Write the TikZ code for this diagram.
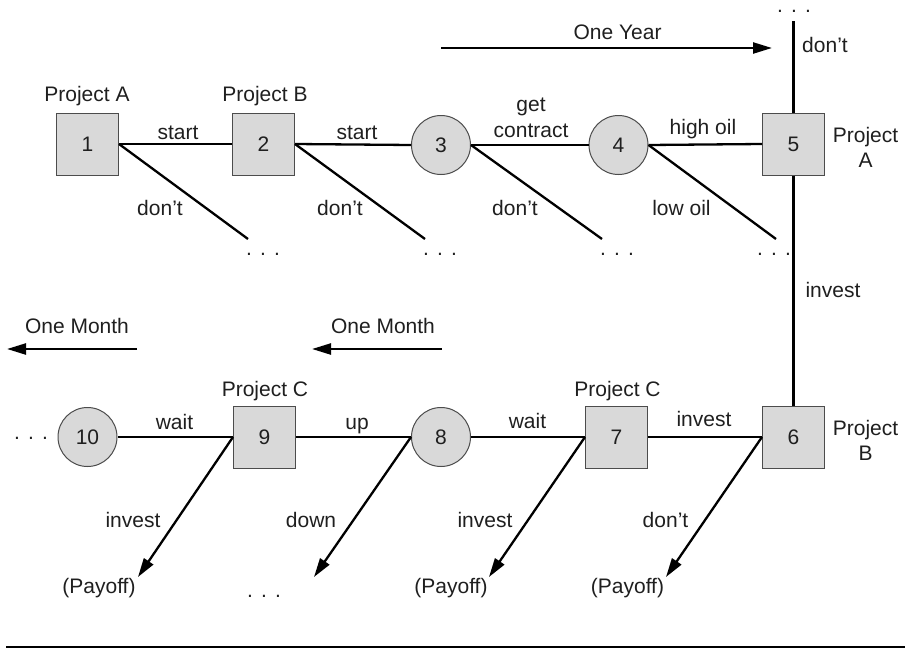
\documentclass[tikz,border=0pt]{standalone}
\usepackage{fontspec}
\setmainfont{Liberation Sans}
\usetikzlibrary{arrows.meta}
\newcommand\tdots{.\hspace{8.2pt}.\hspace{8.2pt}.}
\begin{document}
\begin{tikzpicture}[x=1pt,y=-1pt,
  every node/.style={font=\fontsize{21}{25}\selectfont, text=black!88, inner sep=0pt},
  decision/.style={draw=black!70, line width=1pt, fill=black!15, rectangle, minimum size=62pt},
  chance/.style={draw=black!70, line width=1pt, fill=black!15, circle, minimum size=59pt},
  lbl/.style={anchor=base},
  branch/.style={line width=2.3pt, draw=black},
  arr/.style={line width=2.3pt, draw=black, -{Triangle[length=19pt,width=11pt]}},
]
\useasboundingbox (0,0) rectangle (905,648);

% top row nodes
\node[decision] (n1) at (87.5,144) {1};
\node[decision] (n2) at (263.5,144) {2};
\node[chance]   (n3) at (441,145) {3};
\node[chance]   (n4) at (618.5,145) {4};
\node[decision] (n5) at (793.5,144) {5};
% bottom row nodes
\node[decision] (n6) at (793.5,437) {6};
\node[decision] (n7) at (616.5,437) {7};
\node[chance]   (n8) at (441,437) {8};
\node[decision] (n9) at (264.5,437) {9};
\node[chance]   (n10) at (87.5,437) {10};

% free ends
\coordinate (e1) at (248,239);
\coordinate (e2) at (425,239);
\coordinate (e3) at (602,239);
\coordinate (e4) at (776,239);
\coordinate (top) at (793.5,21);
\coordinate (p9) at (138,577);
\coordinate (p8) at (314,577);
\coordinate (p7) at (489,577);
\coordinate (p6) at (666,577);

% dots
\node[lbl] (d1) at (263,255) {\tdots};
\node[lbl] (d2) at (440,255) {\tdots};
\node[lbl] (d3) at (617,255) {\tdots};
\node[lbl] (d4) at (774,255) {\tdots};
\node[lbl] (dtop) at (794,12) {\tdots};
\node[lbl] (dleft) at (31,439) {\tdots};
\node[lbl] (dbot) at (264,597) {\tdots};

% top connectors
\draw[branch] (n1.east) -- (n2.west);
\draw[branch] (n2.east) -- (n3.west);
\draw[branch] (n3.east) -- (n4.west);
\draw[branch] (n4.east) -- (n5.west);
\draw[branch] (n1.east) -- (e1);
\draw[branch] (n2.east) -- (e2);
\draw[branch] (n3.east) -- (e3);
\draw[branch] (n4.east) -- (e4);
\draw[branch] (top) -- (n5.north);
\draw[branch] (n5.south) -- (n6.north);

% bottom connectors
\draw[branch] (n6.west) -- (n7.east);
\draw[branch] (n7.west) -- (n8.east);
\draw[branch] (n8.west) -- (n9.east);
\draw[branch] (n9.west) -- (n10.east);
\draw[arr] (n6.west) -- (p6);
\draw[arr] (n7.west) -- (p7);
\draw[arr] (n8.west) -- (p8);
\draw[arr] (n9.west) -- (p9);

% time arrows
\coordinate (y1) at (441,48);
\coordinate (y2) at (772,48);
\draw[arr] (y1) -- (y2);
\node[lbl] (ty) at (617.5,39) {One Year};
\coordinate (m1) at (137,349);
\coordinate (m2) at (7,349);
\draw[arr] (m1) -- (m2);
\node[lbl] (tm1) at (77,333) {One Month};
\coordinate (m3) at (441.5,349);
\coordinate (m4) at (312,349);
\draw[arr] (m3) -- (m4);
\node[lbl] (tm2) at (383,333) {One Month};

% top labels
\node[lbl] at (87,101) {Project A};
\node[lbl] at (265,101) {Project B};
\node[lbl] at (178,139) {start};
\node[lbl] at (357,139) {start};
\node[lbl] at (531,111) {get};
\node[lbl] at (531,137) {contract};
\node[lbl] at (703,134) {high oil};
\node[lbl] at (160,215) {don't};
\node[lbl] at (340,215) {don't};
\node[lbl] at (515,215) {don't};
\node[lbl] at (681.5,215) {low oil};
\node[lbl] at (825,52) {don't};
\node[lbl] at (865.5,142) {Project};
\node[lbl] at (865.5,167) {A};
\node[lbl] at (833,297) {invest};

% bottom labels
\node[lbl] at (265,396) {Project C};
\node[lbl] at (617.5,396) {Project C};
\node[lbl] at (174.5,429) {wait};
\node[lbl] at (357,429) {up};
\node[lbl] at (527.5,428) {wait};
\node[lbl] at (704,426) {invest};
\node[lbl] at (865.5,435) {Project};
\node[lbl] at (865.5,460) {B};
\node[lbl] at (133,527) {invest};
\node[lbl] at (311,527) {down};
\node[lbl] at (485,527) {invest};
\node[lbl] at (665.5,527) {don't};
\node[lbl] at (99,593) {(Payoff)};
\node[lbl] at (451,593) {(Payoff)};
\node[lbl] at (627.5,593) {(Payoff)};

% bottom rule
\draw[line width=2.5pt] (6,646.8) -- (905,646.8);
\end{tikzpicture}
\end{document}
